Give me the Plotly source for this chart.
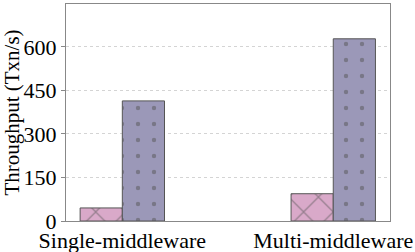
import plotly.graph_objects as go

categories = ["Single-middleware", "Multi-middleware"]
series_a = [45, 94]      # pink, crosshatch
series_b = [414, 628]    # purple, dots
y_ticks = [0, 150, 300, 450, 600]

x_idx = list(range(len(categories)))

fig = go.Figure()
fig.add_trace(go.Bar(
    x=x_idx, y=series_a, width=0.2, offset=-0.2,
    marker=dict(color="#d9a9c9", line=dict(color="#555555", width=1),
                pattern=dict(shape="x", size=21, solidity=0.12, fgcolor="#555555")),
    showlegend=False,
))
fig.add_trace(go.Bar(
    x=x_idx, y=series_b, width=0.2, offset=0,
    marker=dict(color="#9b98b8", line=dict(color="#555555", width=1),
                pattern=dict(shape=".", size=16, solidity=0.06, fgcolor="#555555")),
    showlegend=False,
))

fig.update_layout(
    width=415, height=252,
    margin=dict(l=66, r=25, t=4, b=31),
    plot_bgcolor="white", paper_bgcolor="white",
    barmode="overlay",
    font=dict(family="Liberation Serif", size=22, color="black"),
    xaxis=dict(range=[-0.267, 1.269], tickvals=x_idx, ticktext=categories,
               showgrid=False, zeroline=False, showline=True, linecolor="#888888",
               mirror=True, ticks="", tickfont=dict(size=22), automargin=False,
               ticklabelstandoff=0),
    yaxis=dict(range=[0, 748], tickvals=y_ticks, showgrid=True,
               gridcolor="#d4d4d4", griddash="dot", gridwidth=1,
               zeroline=False, showline=True, linecolor="#888888", mirror=True,
               ticks="outside", ticklen=4, tickcolor="#888888",
               title=dict(text="Throughput (Txn/s)", standoff=2, font=dict(size=21)),
               tickfont=dict(size=22), automargin=False),
)

fig.write_html("out.html", config={"displayModeBar": False},
               post_script="document.body.style.margin='0';document.body.style.overflow='hidden';")
